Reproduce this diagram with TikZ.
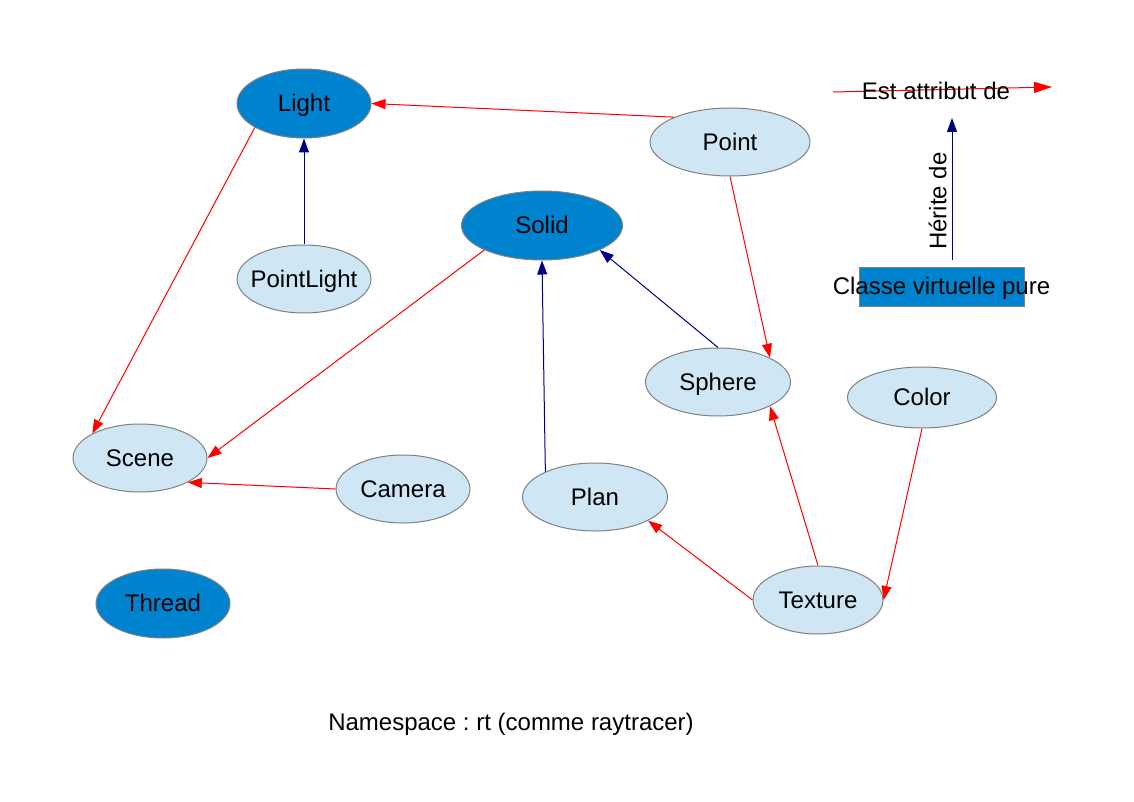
\documentclass[tikz,border=0pt]{standalone}
\usepackage{fontspec}
\setmainfont{Liberation Sans}
\frenchspacing
\usetikzlibrary{shapes.geometric,arrows.meta}
\definecolor{darkfill}{RGB}{0,131,206}
\definecolor{palefill}{RGB}{207,231,245}
\definecolor{bordergray}{RGB}{128,128,128}
\definecolor{inhblue}{RGB}{0,0,128}
\tikzset{
  lbl/.style={font=\fontsize{24}{28}\selectfont\frenchspacing, text=black, text height=21.7pt, text depth=5.1pt},
  cls/.style={lbl, ellipse, draw=bordergray, line width=1pt, inner xsep=-20pt, inner ysep=-8pt},
  virt/.style={cls, fill=darkfill},
  conc/.style={cls, fill=palefill},
  attr/.style={draw=red, line width=1pt, -{Triangle[length=14pt,width=10pt]}},
  inh/.style={draw=inhblue, line width=1pt, -{Triangle[length=14pt,width=10pt]}},
}
\begin{document}
\begin{tikzpicture}[x=1pt,y=-1pt]
\useasboundingbox (0,0) rectangle (1134,802);
% classes
\node[virt, minimum width=134pt, minimum height=69pt] (light) at (304,103.5) {Light};
\node[conc, minimum width=160pt, minimum height=68pt] (point) at (730,142) {Point};
\node[conc, minimum width=134pt, minimum height=68pt] (pointlight) at (304,279) {PointLight};
\node[virt, minimum width=161pt, minimum height=69pt] (solid) at (542,225.5) {Solid};
\node[conc, minimum width=145pt, minimum height=68pt] (sphere) at (718,382) {Sphere};
\node[conc, minimum width=149pt, minimum height=61pt] (color) at (922,397.5) {Color};
\node[conc, minimum width=134pt, minimum height=68pt] (scene) at (140,458) {Scene};
\node[conc, minimum width=134pt, minimum height=68pt] (camera) at (403,489) {Camera};
\node[conc, minimum width=145pt, minimum height=68pt] (plan) at (595,497) {Plan};
\node[conc, minimum width=130pt, minimum height=68pt] (texture) at (818,600) {Texture};
\node[virt, minimum width=134pt, minimum height=69pt] (thread) at (163,603.5) {Thread};
% attribute links
\draw[attr] (point.156.3) -- (light.0);
\draw[attr] (light.206.6) -- (scene.153);
\draw[attr] (point.-90) -- (sphere.25.7);
\draw[attr] (solid.203.3) -- (scene.0);
\draw[attr] (camera.180) -- (scene.-27);
\draw[attr] (texture.180) -- (plan.-24.8);
\draw[attr] (texture.90) -- (sphere.-25.7);
\draw[attr] (color.-90) -- (texture.0);
% inheritance links
\draw[inh] (pointlight.90) -- (light.-90);
\draw[inh] (plan.153.9) -- (solid.-90);
\draw[inh] (sphere.90) -- (solid.-23.6);
% legend
\coordinate (attrstart) at (833,92);
\coordinate (attrend) at (1052,87);
\draw[draw=red, line width=1pt, -{Triangle[length=18pt,width=11pt]}] (attrstart) -- (attrend);
\node[lbl] (attrlabel) at (936,91) {Est attribut de};
\coordinate (inhstart) at (952,260);
\coordinate (inhend) at (952,118);
\draw[inh] (inhstart) -- (inhend);
\node[lbl, rotate=90] (inhlabel) at (938,201) {Hérite de};
\node[lbl, draw=bordergray, fill=darkfill, line width=1pt, minimum width=165pt, minimum height=39pt, inner xsep=-30pt, inner ysep=-10pt] (virtlegend) at (941.5,286.5) {Classe virtuelle pure};
% namespace
\node[lbl] (namespace) at (511,722) {Namespace : rt (comme raytracer)};
\end{tikzpicture}
\end{document}
